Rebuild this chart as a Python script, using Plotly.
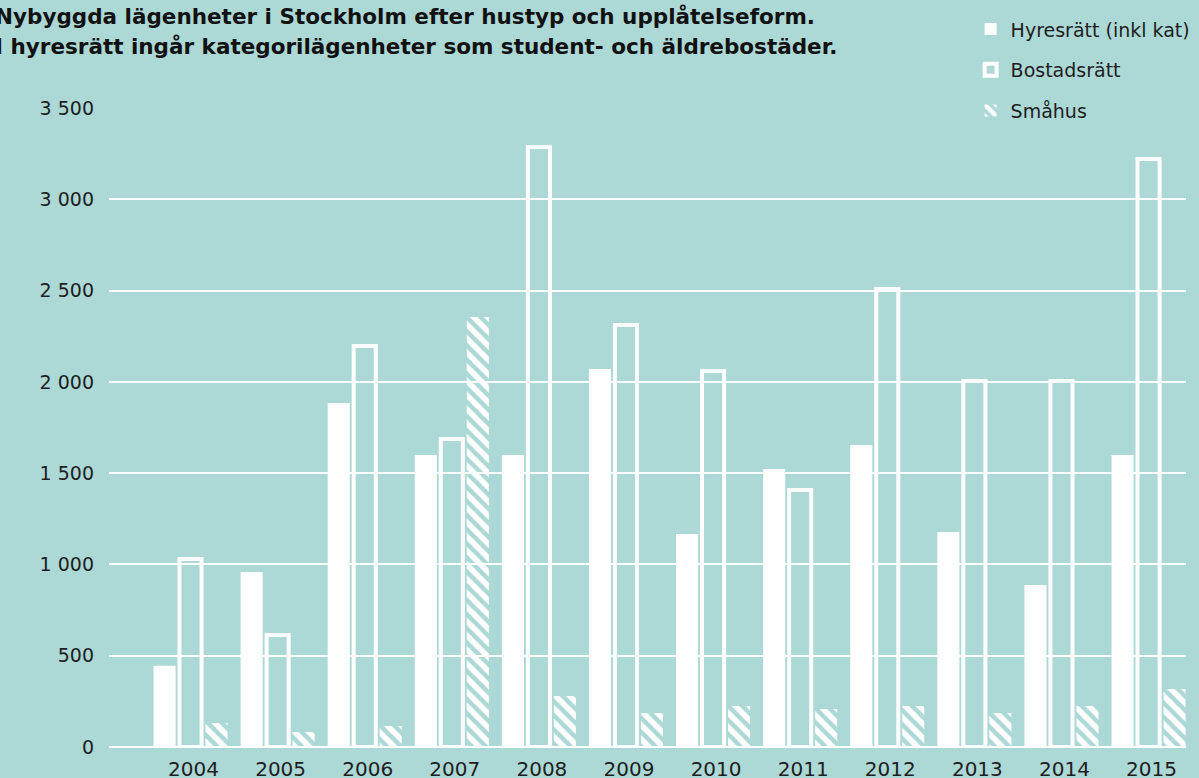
import plotly.graph_objects as go

years = ["2004", "2005", "2006", "2007", "2008", "2009", "2010", "2011", "2012", "2013", "2014", "2015"]
hyresratt = [445, 958, 1884, 1599, 1599, 2070, 1167, 1523, 1654, 1178, 887, 1599]
bostadsratt = [1030, 613, 2196, 1687, 3286, 2311, 2059, 1408, 2509, 2005, 2005, 3221]
smahus = [131, 82, 115, 2355, 279, 186, 225, 208, 225, 186, 225, 318]

y_tickvals = [0, 500, 1000, 1500, 2000, 2500, 3000, 3500]
y_ticktext = ["0", "500", "1 000", "1 500", "2 000", "2 500", "3 000", "3 500"]

title_lines = [
    "Nybyggda lägenheter i Stockholm efter hustyp och upplåtelseform.",
    "I hyresrätt ingår kategorilägenheter som student- och äldrebostäder.",
]

BG = "#acd8d5"
FONT = "'DejaVu Sans', sans-serif"
TITLE_FONT = "'DejaVu Sans', sans-serif"
TICK_FONT = "'DejaVu Sans', sans-serif"

fig = go.Figure()
fig.add_trace(go.Bar(
    x=years, y=hyresratt, name="Hyresrätt (inkl kat)",
    marker=dict(color="white", line=dict(width=0)),
    legendgroup="a",
))
fig.add_trace(go.Bar(
    x=years, y=bostadsratt, name="Bostadsrätt",
    marker=dict(color="rgba(0,0,0,0)", line=dict(color="white", width=4)),
    legendgroup="b",
))
fig.add_trace(go.Bar(
    x=years, y=smahus, name="Småhus",
    marker=dict(color="rgba(0,0,0,0)", line=dict(width=0),
                pattern=dict(shape="\\", fgcolor="white", fgopacity=1,
                             bgcolor="rgba(0,0,0,0)",
                             size=10, solidity=0.55, fillmode="overlay")),
    legendgroup="c",
))

fig.update_layout(
    width=1199, height=778,
    paper_bgcolor=BG, plot_bgcolor=BG,
    margin=dict(l=109, r=13, t=108, b=31, autoexpand=False),
    barmode="group", bargap=0.105, bargroupgap=0.15,
    font=dict(family=FONT, color="#1e1e1e", size=19),
    showlegend=True,
    legend=dict(
        x=0.8, y=1.153, xanchor="left", yanchor="top",
        bgcolor=BG, font=dict(size=19, color="#1e1e1e", family=FONT),
        tracegroupgap=13, traceorder="grouped",
    ),
    xaxis=dict(
        type="category", range=[-0.936, 11.43],
        showgrid=False, zeroline=False, showline=False, ticks="",
        tickfont=dict(size=20, color="#1e1e1e", family=TICK_FONT), ticklabelstandoff=8,
        ticklabelshift=3,
    ),
    yaxis=dict(
        range=[0, 3500], tickvals=y_tickvals, ticktext=y_ticktext,
        showgrid=True, gridcolor="white", gridwidth=1.5,
        zeroline=True, zerolinecolor="white", zerolinewidth=2,
        showline=False, ticks="", ticklabelstandoff=14,
        tickfont=dict(size=19, color="#1e1e1e", family=TICK_FONT),
    ),
)

for i, line in enumerate(title_lines):
    fig.add_annotation(
        xref="paper", yref="paper",
        x=-0.108, y=1 + (108 - 17 - 30 * i) / 639,
        xanchor="left", yanchor="middle", showarrow=False,
        text="<b>" + line + "</b>",
        font=dict(size=21.5, color="#111111", family=TITLE_FONT),
    )

fig.write_html("out.html", config={"displayModeBar": False},
               post_script="document.body.style.margin='0';")
